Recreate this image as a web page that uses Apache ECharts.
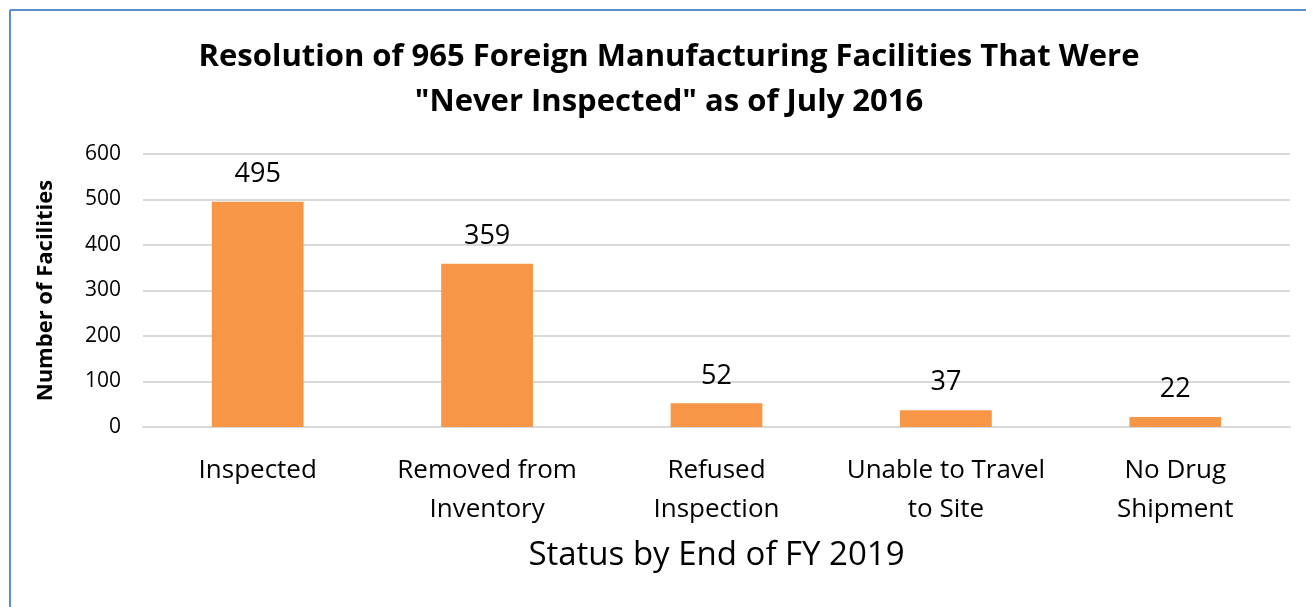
<!DOCTYPE html>
<html>
<head>
<meta charset="utf-8">
<script src="https://cdn.jsdelivr.net/npm/echarts@6/dist/echarts.min.js"></script>
<style>
  html, body { margin: 0; padding: 0; background: #fff; }
  #chart { width: 1306px; height: 607px; }
</style>
</head>
<body>
<div id="chart"></div>
<script>
  // data
  var categories = ['Inspected', 'Removed from\nInventory', 'Refused\nInspection', 'Unable to Travel\nto Site', 'No Drug\nShipment'];
  var facilities = [495, 359, 52, 37, 22];
  var yTicks = [0, 100, 200, 300, 400, 500, 600];

  var font = '"Open Sans", "Liberation Sans", sans-serif';
  var chart = echarts.init(document.getElementById('chart'));

  chart.setOption({
    animation: false,
    title: {
      text: 'Resolution of 965 Foreign Manufacturing Facilities That Were\n"Never Inspected" as of July 2016',
      left: 664,
      top: 30,
      textAlign: 'center',
      textStyle: {
        fontFamily: font,
        fontSize: 31,
        fontWeight: 'bold',
        color: '#000',
        lineHeight: 45
      }
    },
    graphic: [
      // outer frame (only left and top edges are visible)
      {type: 'line', shape: {x1: 10, y1: 10, x2: 1306, y2: 10}, style: {stroke: '#5b8fd0', lineWidth: 2}},
      {type: 'line', shape: {x1: 10, y1: 10, x2: 10, y2: 607}, style: {stroke: '#5b8fd0', lineWidth: 2}}
    ],
    grid: {
      left: 143,
      right: 16,
      top: 154,
      bottom: 180
    },
    xAxis: {
      type: 'category',
      data: categories,
      name: 'Status by End of FY 2019',
      nameLocation: 'middle',
      nameGap: 112,
      nameTextStyle: {fontFamily: font, fontSize: 33, color: '#000'},
      axisLine: {lineStyle: {color: '#d9d9d9', width: 2}},
      axisTick: {show: false},
      axisLabel: {
        interval: 0,
        hideOverlap: false,
        fontFamily: font,
        fontSize: 26,
        color: '#000',
        lineHeight: 39,
        margin: 24
      }
    },
    yAxis: {
      type: 'value',
      min: yTicks[0],
      max: yTicks[yTicks.length - 1],
      interval: 100,
      name: 'Number of Facilities',
      nameLocation: 'middle',
      nameGap: 86,
      nameTextStyle: {fontFamily: font, fontSize: 22, fontWeight: 'bold', color: '#000'},
      axisLine: {show: false},
      axisTick: {show: false},
      axisLabel: {fontFamily: font, fontSize: 21, color: '#000', margin: 22},
      splitLine: {lineStyle: {color: '#d9d9d9', width: 2}}
    },
    series: [{
      name: 'Facilities',
      type: 'bar',
      data: facilities,
      barWidth: '40%',
      itemStyle: {color: '#f79646'},
      label: {
        show: true,
        position: 'top',
        distance: 14,
        fontFamily: font,
        fontSize: 27,
        color: '#000'
      }
    }]
  });
</script>
</body>
</html>
